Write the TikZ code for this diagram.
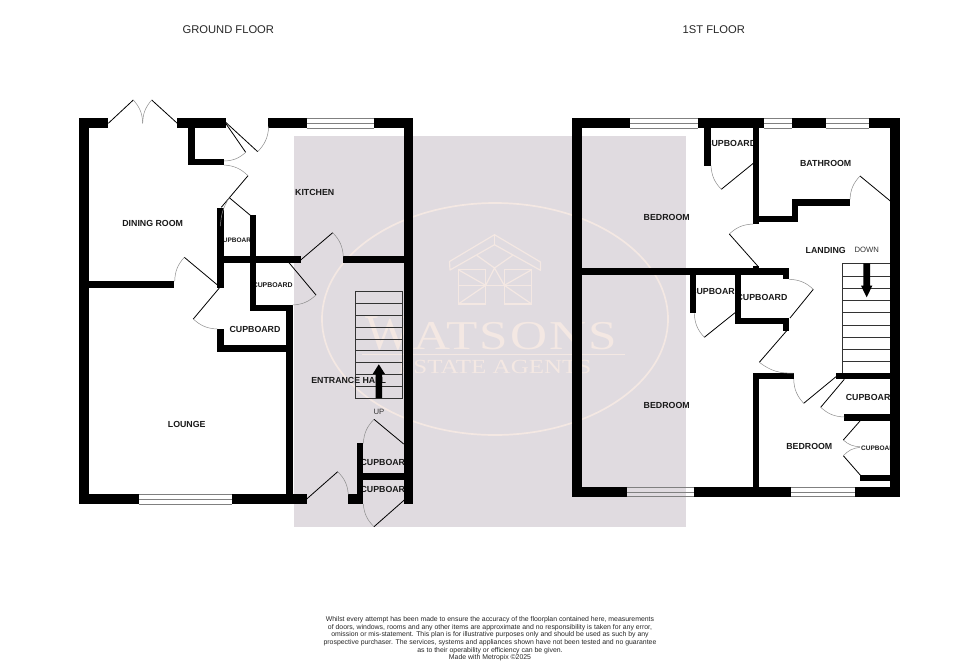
\documentclass[tikz,border=0pt]{standalone}
\usepackage{fontspec}
\setmainfont{Liberation Sans}
\newfontfamily\wmfont{Liberation Serif}
\newfontfamily\wmwide[FakeStretch=1.25]{Liberation Serif}
\definecolor{plate}{HTML}{E0DBE0}
\definecolor{wmark}{HTML}{F4E8E3}
\tikzset{
  wall/.style = {fill=black},
  leaf/.style = {draw=black, line width=0.8pt},
  swing/.style = {draw=black!45, line width=0.5pt},
  tread/.style = {draw=black!80, line width=0.8pt},
  wline/.style = {draw=wmark, line width=1.2pt},
  wtext/.style = {inner sep=0pt, anchor=base west, text=wmark},
  pane/.style = {draw=black!50, line width=0.8pt},
  room/.style = {inner sep=0pt, text=black!90, font=\fontsize{8.8}{10}\selectfont\bfseries},
  smallroom/.style = {room, font=\fontsize{6.5}{8}\selectfont\bfseries},
  midroom/.style = {room, font=\fontsize{6.9}{8}\selectfont\bfseries},
  note/.style = {inner sep=0pt, text=black!80, font=\fontsize{7.7}{9}\selectfont},
  floorname/.style = {inner sep=0pt, text=black!85, font=\fontsize{11.2}{12}\selectfont}
}
\begin{document}
\begin{tikzpicture}[x=1pt, y=-1pt]
    \useasboundingbox (0,0) rectangle (980,662);

    % Watermark
    \fill[plate] (294,136) rectangle (686,527);
    \draw[wmark, line width=1.7pt] (495,319) ellipse [x radius=173, y radius=116];
    \draw[wline, line join=round] (450,270) -- (449.5,261.5) -- (494.5,234.7) -- (540.5,262) -- (540.5,270.3) -- (494.5,244.7) -- cycle;
    \draw[wline] (494.5,234.7) -- (494.5,244.7);
    \draw[wline] (458.3,269.7) rectangle (485.7,304);
    \draw[wline] (504.3,269.7) rectangle (531.7,304);
    \draw[wline] (458.3,285.3) -- (531.7,285.3);
    \draw[wline] (476.7,255.3) -- (494.5,268) -- (512.7,255.3);
    \draw[wline] (485.7,285.3) -- (494.5,268) -- (504.3,285.3);
    \draw[wline] (458.3,269.7) -- (485.7,285.3) -- (458.3,304);
    \draw[wline] (531.7,269.7) -- (504.3,285.3) -- (531.7,304);
    \node[wtext] (wmw) at (365,349.3) {\wmfont\fontsize{50}{50}\selectfont W};
    \node[wtext] (wmname) at (413,349.3) {\wmwide\addfontfeature{LetterSpace=5}\fontsize{41}{41}\selectfont ATSONS};
    \draw[wmark, line width=0.6pt] (361.7,354.3) -- (625,354.3);
    \node[wtext] (wmagent) at (398,373.3) {\wmwide\fontsize{20}{20}\selectfont ESTATE AGENTS};

    % Stairs
    \draw[tread] (355,291.7) rectangle (402.7,398);
    \foreach \ty in {303.3,315.3,327,339,350.7,362.3,374.3,386.3}
        \draw[tread] (355,\ty) -- (402.7,\ty);
    \draw[tread] (842.7,263.3) rectangle (890.3,373);
    \foreach \ty in {276,288.3,300.3,312.3,325,337,349,361}
        \draw[tread] (842.7,\ty) -- (890.3,\ty);

    % Titles
    \node[floorname] (ground) at (228.3,29.5) {GROUND FLOOR};
    \node[floorname] (first) at (713.8,29.5) {1ST FLOOR};

    % Rooms ground floor
    \node[room] (dining) at (152.7,223) {DINING ROOM};
    \node[room] (kitchen) at (314.7,192) {KITCHEN};
    \node[smallroom] (cupa) at (237,240) {CUPBOARD};
    \node[midroom] (cupb) at (272.7,284.7) {CUPBOARD};
    \node[room] (cupc) at (255,329) {CUPBOARD};
    \node[room] (lounge) at (186.7,424.3) {LOUNGE};
    \node[room] (hall) at (348.7,380) {ENTRANCE HALL};
    \node[note] (up) at (379,412) {UP};
    \node[room] (cupd) at (386,462.3) {CUPBOARD};
    \node[room] (cupe) at (386,489) {CUPBOARD};

    % Rooms first floor
    \node[room] (beda) at (666.7,217) {BEDROOM};
    \node[room] (bath) at (825.7,163.7) {BATHROOM};
    \node[room] (landing) at (825.7,250.3) {LANDING};
    \node[note] (down) at (866.7,250) {DOWN};
    \node[room] (cupf) at (730.7,143.7) {CUPBOARD};
    \node[room] (cupg) at (715.7,291.7) {CUPBOARD};
    \node[room] (cuph) at (762,297) {CUPBOARD};
    \node[room] (bedb) at (666.7,405.3) {BEDROOM};
    \node[room] (bedc) at (809.3,446.3) {BEDROOM};
    \node[room] (cupi) at (871.3,397.3) {CUPBOARD};
    \node[smallroom] (cupj) at (880,448) {CUPBOARD};

    % Walls ground floor
    \foreach \xa/\ya/\xb/\yb in {79.3/118.3/89.3/504, 79.3/118.3/108.3/128.3, 177.3/118.3/225.7/128.3,
        188.3/128/195/165, 188.3/159/224/165, 268.3/118.3/306.7/128.3, 374/118.3/413.3/128.3,
        403.7/118.3/413.3/504, 89/281.3/174.3/288, 217.3/208.3/224/288, 224/256.3/300.7/262.7,
        250/215/256/311.3, 250/305/292.7/311.3, 286/305/292.7/504, 343.3/256.3/403.7/262.7,
        217.3/329/224/351.7, 217.3/345/286.7/351.7, 79.3/494.3/139/504, 232.3/494.3/306.7/504,
        348.3/494.3/363.3/504, 357/443.3/363.3/504, 363/473.3/403.7/480}
        \fill[wall] (\xa,\ya) rectangle (\xb,\yb);

    % Walls first floor
    \foreach \xa/\ya/\xb/\yb in {572.3/118.3/582.3/496.7, 572.3/118.3/630/128.3, 697.7/118.3/764/128.3,
        792.3/118.3/825.7/128.3, 868.7/118.3/900.3/128.3, 890.3/118.3/900.3/496.7,
        572.3/487/626.7/496.7, 694.3/487/791/496.7, 855/487/900.3/496.7,
        704.3/128/711/165.7, 753/128/759.3/224, 753/215.7/798.3/222, 792/199.3/798.3/222,
        792/199.3/850/206, 582/268.3/789.3/275, 783/268/789.3/279.3, 753/266/759.3/268.5,
        689.7/275/696/313.3, 735/275/741/324.3, 735/318/789.3/324.3, 783/318/789.3/330.7,
        753/373/759.3/487, 753/373/793.7/379.3, 836/373/890.3/379.3, 844/414.3/890.3/420.7,
        860/474.7/890.3/481}
        \fill[wall] (\xa,\ya) rectangle (\xb,\yb);

    % Windows
    \foreach \xa/\xb/\ya/\yb in {306.7/374/118.3/128, 139/232.3/494.5/504, 630/697.7/118.3/128,
        764/792.3/118.3/128, 825.7/868.7/118.3/128, 626.7/694.3/487.5/496.5, 791/855/487.5/496.5} {
        \draw[pane] (\xa,\ya) -- (\xb,\ya);
        \draw[pane] (\xa,{(\ya+\yb)/2}) -- (\xb,{(\ya+\yb)/2});
        \draw[pane] (\xa,\yb) -- (\xb,\yb);
    }

    % Stair arrows
    \fill[wall] (375.7,398) -- (375.7,374) -- (372.7,374) -- (378.8,364.3) -- (385,374) -- (382,374) -- (382,398) -- cycle;
    \fill[wall] (863.3,263.3) -- (863.3,285.7) -- (861,285.7) -- (866.7,297.3) -- (872.3,285.7) -- (870,285.7) -- (870,263.3) -- cycle;

    % Doors: hinge, tip, end of swing, bend
    \foreach \hx/\hy/\tx/\ty/\ex/\ey/\bb in {
        108.3/123.3/133.3/100/142.7/123.3/20, 177.3/123.3/151.7/100/142.7/123.3/-20,
        225.7/123.3/245.7/152.3/224/161/20, 225.7/122.3/257.7/151.7/268.7/126.7/-20,
        221.3/207.3/248/175.7/224/165/-20, 252.7/217.3/229.3/197.7/220.5/226/-15,
        218.3/285.7/184.3/257.3/174.7/281.3/-20, 219.3/288/193.3/319/217.3/329/-20,
        289/262.7/316/295/292.7/305/20, 300.7/260/332.7/232.7/343.3/256.3/20,
        403.7/444/374/419.3/363.3/443.3/-20, 404.3/500/374/526.7/363.3/504/20,
        306.7/499/337.7/471.7/348.3/494.3/20,
        753.3/163.3/721.3/189.3/711/165.7/20, 890.3/201/860/176/850/199.3/-20,
        758.3/266.7/729.3/234/753/224/20, 790/318/813.3/289.3/789.3/279.3/-20,
        735/312.7/704.3/337.3/694.3/313.3/20, 786.7/330.7/759.3/362.3/793.7/373/-20,
        836/376.7/803.7/403.3/793.7/379.3/20, 844.3/379.3/820.7/407.3/844.3/417/-20,
        860/421/843.3/440/860/446.7/-20, 861.7/476.7/843.3/455.7/860/447.3/20} {
        \draw[leaf] (\hx,\hy) -- (\tx,\ty);
        \draw[swing] (\tx,\ty) to[bend left=\bb] (\ex,\ey);
    }

    % Disclaimer
    \node[inner sep=0pt, align=center, text=black!85, font=\fontsize{6.9}{7.67}\selectfont] (disclaimer) at (490,638.8)
        {Whilst every attempt has been made to ensure the accuracy of the floorplan contained here, measurements\\
         of doors, windows, rooms and any other items are approximate and no responsibility is taken for any error,\\
         omission or mis-statement. This plan is for illustrative purposes only and should be used as such by any\\
         prospective purchaser. The services, systems and appliances shown have not been tested and no guarantee\\
         as to their operability or efficiency can be given.\\
         Made with Metropix \textcopyright2025};
\end{tikzpicture}
\end{document}
